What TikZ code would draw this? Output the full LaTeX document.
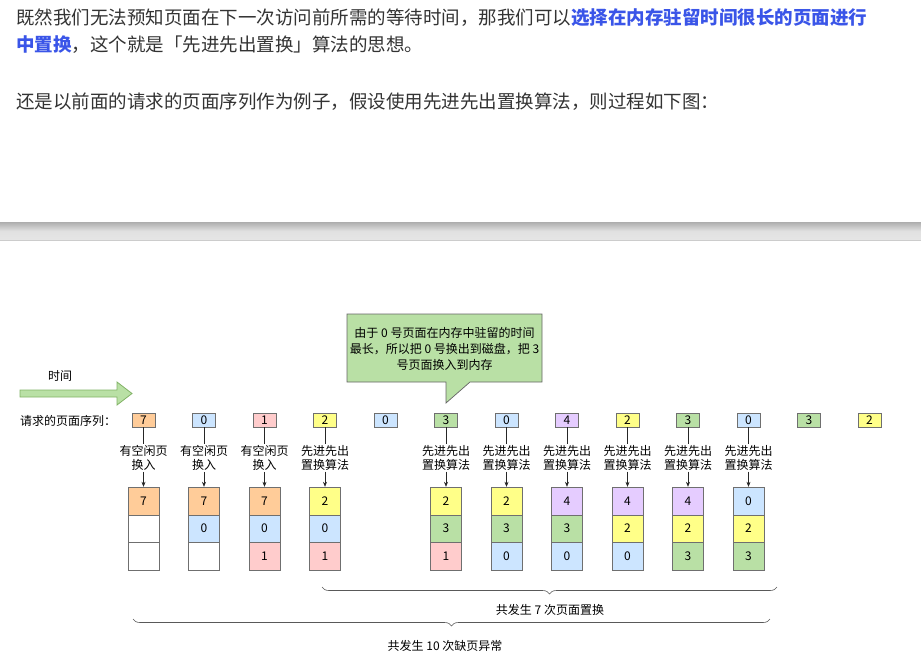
\documentclass[tikz,border=0pt]{standalone}
\usepackage{fontspec}
\setmainfont{Noto Sans CJK SC}
\usetikzlibrary{arrows.meta,decorations.pathreplacing}
\definecolor{txt}{HTML}{333333}
\definecolor{linkblue}{HTML}{3A55E8}
\definecolor{cO}{HTML}{FFCC99}
\definecolor{cB}{HTML}{CCE5FF}
\definecolor{cP}{HTML}{FFCCCC}
\definecolor{cY}{HTML}{FFFF88}
\definecolor{cG}{HTML}{B9E0A5}
\definecolor{cV}{HTML}{E5CCFF}
\definecolor{cW}{HTML}{FFFFFF}
\definecolor{gstroke}{HTML}{82B366}
\definecolor{bord}{HTML}{6F6F6F}
\tikzset{
  para/.style={anchor=west,inner sep=0pt,text=txt,font=\fontsize{18.5}{22}\selectfont},
  dtext/.style={inner sep=1pt,font=\fontsize{12}{14}\selectfont,align=center},
  seqbox/.style={draw=bord,minimum width=23pt,minimum height=14pt,inner sep=0pt,font=\fontsize{12}{14}\selectfont},
  cell/.style={draw=bord,minimum width=31pt,minimum height=27.7pt,inner sep=0pt,font=\fontsize{12}{14}\selectfont},
  conn/.style={draw=black!85,line width=0.6pt},
  bracestyle/.style={draw=black!65,line width=0.6pt,decorate,decoration={brace,mirror,amplitude=7pt}},
}
\begin{document}
\begin{tikzpicture}[x=1pt,y=-1pt]
\useasboundingbox[fill=white] (0,0) rectangle (921,654);
% paragraph text
\node[para] (t1) at (16,17.5) {既然我们无法预知页面在下一次访问前所需的等待时间，那我们可以{\color{linkblue}\bfseries 选择在内存驻留时间很长的页面进行}};
\node[para] (t2) at (16,44.5) {{\color{linkblue}\bfseries 中置换}，这个就是「先进先出置换」算法的思想。};
\node[para] (t3) at (16,101.5) {还是以前面的请求的页面序列作为例子，假设使用先进先出置换算法，则过程如下图：};
% separator bar
\shade[top color=black!32,bottom color=black!10,middle color=black!12] (0,222) rectangle (921,240);
\draw[black!20] (0,240) -- (921,240);
% time arrow
\node[dtext] (time) at (60,376) {时间};
\draw[fill=cG,draw=gstroke,line width=0.8pt] (20,390) -- (117,390) -- (117,382) -- (132,393.5) -- (117,405) -- (117,397) -- (20,397) -- cycle;
% callout
\draw[fill=cG,draw=black!60,line width=0.7pt] (347,314) -- (542,314) -- (542,382) -- (470,382) -- (446,403) -- (446,382) -- (347,382) -- cycle;
\node[dtext,font=\fontsize{12}{16}\selectfont] (note) at (444.5,349) {由于 0 号页面在内存中驻留的时间\\最长，所以把 0 号换出到磁盘，把 3\\号页面换入到内存};
% sequence label
\node[dtext,anchor=west] (reqlabel) at (19,421) {请求的页面序列：};
% sequence boxes
\foreach \i/\v/\c in {0/7/cO,1/0/cB,2/1/cP,3/2/cY,4/0/cB,5/3/cG,6/0/cB,7/4/cV,8/2/cY,9/3/cG,10/0/cB,11/3/cG,12/2/cY}{
  \node[seqbox,fill=\c] (s\i) at ({143.5+60.5*\i},420) {\v};
}
% labels
\foreach \i in {0,1,2}{
  \node[dtext] (l\i) at ({143.5+60.5*\i},458) {有空闲页\\换入};
}
\foreach \i in {3,5,6,7,8,9,10}{
  \node[dtext] (l\i) at ({143.5+60.5*\i},458) {先进先出\\置换算法};
}
% columns
\foreach \i/\a/\ca/\b/\cb/\cc/\ccc in {0/7/cO/{}/cW/{}/cW,1/7/cO/0/cB/{}/cW,2/7/cO/0/cB/1/cP,3/2/cY/0/cB/1/cP,5/2/cY/3/cG/1/cP,6/2/cY/3/cG/0/cB,7/4/cV/3/cG/0/cB,8/4/cV/2/cY/0/cB,9/4/cV/2/cY/3/cG,10/0/cB/2/cY/3/cG}{
  \node[cell,fill=\ca] (c\i a) at ({143.5+60.5*\i},500.85) {\a};
  \node[cell,fill=\cb] (c\i b) at ({143.5+60.5*\i},528.55) {\b};
  \node[cell,fill=\ccc] (c\i c) at ({143.5+60.5*\i},556.25) {\cc};
  \draw[conn] (s\i) -- (l\i);
  \draw[conn,-{Stealth[length=5pt,width=4pt]}] (l\i) -- (c\i a);
}
% braces
\coordinate (b1l) at (322,587);
\coordinate (b1r) at (777,587);
\draw[bracestyle] (b1l) -- (b1r);
\node[dtext] (sum1) at (550,610) {共发生 7 次页面置换};
\coordinate (b2l) at (133,619);
\coordinate (b2r) at (770,619);
\draw[bracestyle] (b2l) -- (b2r);
\node[dtext] (sum2) at (445,646) {共发生 10 次缺页异常};
\end{tikzpicture}
\end{document}
